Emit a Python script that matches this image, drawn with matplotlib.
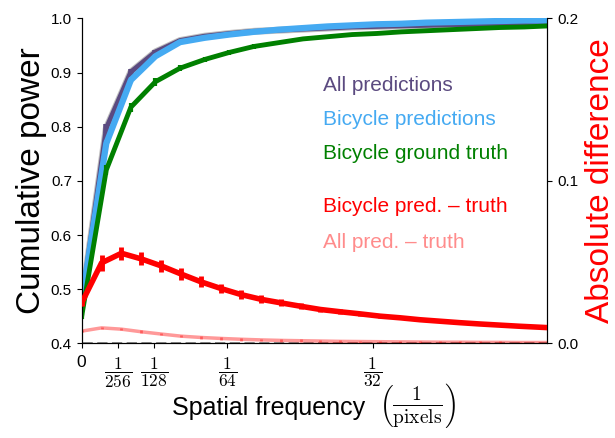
import matplotlib
matplotlib.use("Agg")
import matplotlib.pyplot as plt

plt.rcParams['font.family'] = ['Liberation Sans', 'DejaVu Sans']
plt.rcParams['mathtext.fontset'] = 'cm'

# frecuencias de las curvas acumuladas
freq_cum = [0, 0.00264, 0.00528, 0.00792, 0.01056, 0.0132, 0.01584, 0.01848,
            0.02112, 0.02376, 0.0264, 0.02904, 0.03168, 0.03432, 0.03696,
            0.0396, 0.04224, 0.04488, 0.04752, 0.05016]
all_pred = [0.475, 0.797, 0.901, 0.938, 0.959, 0.967, 0.972, 0.976, 0.978,
            0.980, 0.982, 0.984, 0.985, 0.986, 0.987, 0.988, 0.988, 0.989,
            0.989, 0.990]
all_pred_err = [0.004, 0.008, 0.005, 0.004, 0.003, 0.002, 0.001, 0.001, 0.001,
                0.001, 0.001, 0.001, 0.001, 0.001, 0.001, 0.001, 0.001, 0.001,
                0.001, 0.001]
bike_pred = [0.477, 0.769, 0.886, 0.930, 0.956, 0.964, 0.970, 0.975, 0.979,
             0.982, 0.985, 0.987, 0.989, 0.990, 0.992, 0.993, 0.994, 0.995,
             0.996, 0.996]
bike_pred_err = [0.004, 0.007, 0.005, 0.004, 0.003, 0.003, 0.002, 0.002, 0.002,
                 0.002, 0.002, 0.002, 0.002, 0.002, 0.002, 0.002, 0.002, 0.002,
                 0.002, 0.002]
bike_truth = [0.450, 0.720, 0.836, 0.883, 0.908, 0.924, 0.937, 0.948, 0.955,
              0.962, 0.966, 0.970, 0.972, 0.975, 0.977, 0.979, 0.981, 0.983,
              0.984, 0.986]
bike_truth_err = [0.004, 0.010, 0.008, 0.007, 0.006, 0.005, 0.004, 0.004, 0.003,
                  0.003, 0.003, 0.003, 0.003, 0.003, 0.003, 0.003, 0.003, 0.003,
                  0.003, 0.003]

# frecuencias de las diferencias
freq_diff = [0, 0.00214, 0.00427, 0.00641, 0.00855, 0.01068, 0.01282, 0.01496,
             0.0171, 0.01923, 0.02137, 0.02351, 0.02564, 0.02778, 0.02992,
             0.03205, 0.03419, 0.03633, 0.03846, 0.0406, 0.04274, 0.04487,
             0.04701, 0.04915, 0.05128]
bike_diff = [0.025, 0.0496, 0.0555, 0.0520, 0.0477, 0.0427, 0.0379, 0.0338,
             0.0301, 0.0272, 0.0250, 0.0229, 0.0209, 0.0195, 0.0182, 0.0168,
             0.0158, 0.0146, 0.0137, 0.0128, 0.0120, 0.0113, 0.0106, 0.0100,
             0.0094]
bike_diff_err = [0.002, 0.0048, 0.0040, 0.0040, 0.0038, 0.0035, 0.0033, 0.0030,
                 0.0027, 0.0025, 0.0022, 0.0020, 0.0018, 0.0016, 0.0014, 0.0012,
                 0.0010, 0.0008, 0.0006, 0.0005, 0.0004, 0.0004, 0.0003, 0.0003,
                 0.0003]
all_diff = [0.0076, 0.0096, 0.0088, 0.0072, 0.0058, 0.0045, 0.0037, 0.0031,
            0.0026, 0.0022, 0.0019, 0.0017, 0.0015, 0.0013, 0.0012, 0.0011,
            0.0010, 0.0009, 0.0008, 0.0008, 0.0007, 0.0007, 0.0006, 0.0006,
            0.0006]
all_diff_err = [0.0008] * 12 + [0.0006] * 13

xticks = [0, 1 / 256, 1 / 128, 1 / 64, 1 / 32]
xticklabels = ['0', r'$\dfrac{1}{256}$', r'$\dfrac{1}{128}$', r'$\dfrac{1}{64}$', r'$\dfrac{1}{32}$']

c_all = '#5b4a80'
c_bike = '#45aaf2'
c_truth = 'green'
c_diff = 'red'

fig = plt.figure(figsize=(6.15, 4.38), dpi=100)
ax = fig.add_axes([0.1328, 0.2158, 0.7572, 0.7424])
ax2 = ax.twinx()

# curvas acumuladas (eje izquierdo)
ax.plot(freq_cum, all_pred, color='gray', lw=5, alpha=0.5, zorder=1)
ax.errorbar(freq_cum, all_pred, yerr=all_pred_err, color=c_all, lw=3.5,
            elinewidth=4, capsize=0, zorder=2)
ax.errorbar(freq_cum, bike_pred, yerr=bike_pred_err, color=c_bike, lw=4.5,
            elinewidth=3, capsize=0, zorder=3)
ax.errorbar(freq_cum, bike_truth, yerr=bike_truth_err, color=c_truth, lw=3.5,
            elinewidth=3, capsize=0, zorder=4)

ax.set_xlim(0, 0.05)
ax.set_ylim(0.4, 1.0)
ax.set_xticks(xticks)
ax.set_xticklabels(xticklabels)
ax.tick_params(axis='x', labelsize=12.5, pad=5)
ax.tick_params(axis='y', labelsize=11)
ax.set_ylabel('Cumulative power', fontsize=24)
ax.yaxis.set_label_coords(-0.075, 0.5)
ax.spines['top'].set_visible(False)

# etiqueta del eje x: texto y fracción por separado para centrar el paréntesis
fig.text(172 / 615, 1 - 415 / 438, 'Spatial frequency', fontsize=18,
         ha='left', va='baseline')
fig.text(379 / 615, 1 - 406 / 438, r'$\left(\frac{1}{\mathrm{pixels}}\right)$',
         fontsize=20, ha='left', va='center')

# diferencias (eje derecho)
ax2.axhline(0, color='0.35', lw=2, ls='--', alpha=0.8, zorder=1)
ax2.errorbar(freq_diff, all_diff, yerr=all_diff_err, color=c_diff, alpha=0.4,
             lw=2.5, elinewidth=2, capsize=0, zorder=2)
ax2.errorbar(freq_diff, bike_diff, yerr=bike_diff_err, color=c_diff, lw=4,
             elinewidth=3.5, capsize=0, zorder=3)
ax2.set_ylim(0, 0.2)
ax2.set_yticks([0, 0.1, 0.2])
ax2.tick_params(axis='y', labelsize=11)
ax2.set_ylabel('Absolute difference', color=c_diff, fontsize=24)
ax2.yaxis.set_label_coords(1.081, 0.5)
ax2.spines['top'].set_visible(False)

# etiquetas en lugar de leyenda
ax.text(0.518, 0.777, 'All predictions', color=c_all, fontsize=15, transform=ax.transAxes)
ax.text(0.518, 0.672, 'Bicycle predictions', color=c_bike, fontsize=15, transform=ax.transAxes)
ax.text(0.518, 0.567, 'Bicycle ground truth', color=c_truth, fontsize=15, transform=ax.transAxes)
ax.text(0.518, 0.404, 'Bicycle pred. \u2013 truth', color=c_diff, fontsize=15, transform=ax.transAxes)
ax.text(0.518, 0.294, 'All pred. \u2013 truth', color=c_diff, alpha=0.45, fontsize=15,
        transform=ax.transAxes)

fig.savefig('out.png', dpi=100)
